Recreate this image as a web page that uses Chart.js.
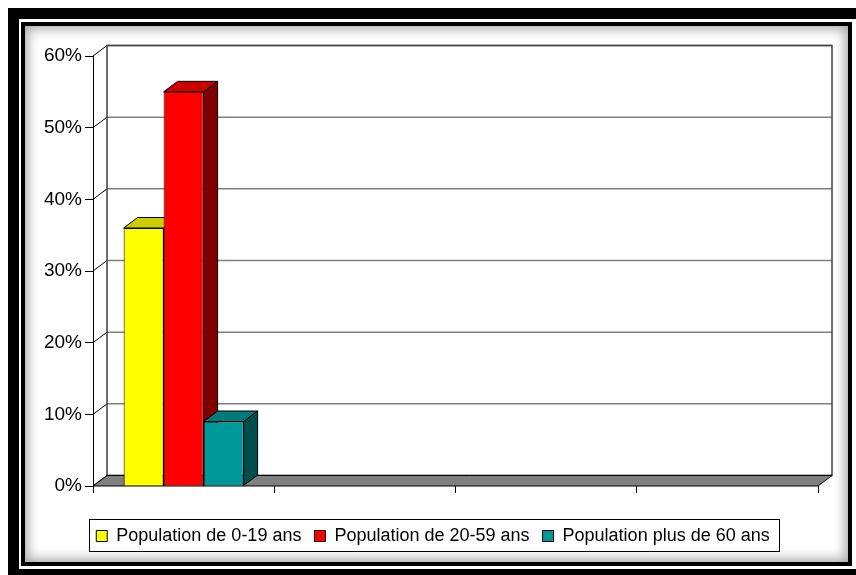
<!DOCTYPE html>
<html>
<head>
<meta charset="utf-8">
<script src="https://cdn.jsdelivr.net/npm/chart.js@4.4.1/dist/chart.umd.min.js"></script>
<style>
    html, body { margin: 0; padding: 0; background: #fff; }
    body { width: 856px; height: 575px; position: relative; overflow: hidden; }
    .outer-frame {
        position: absolute; left: 8px; top: 8px; width: 900px; height: 572px;
        box-sizing: border-box; border: 11px solid #000;
    }
    .inner-frame {
        position: absolute; left: 21px; top: 22px; width: 831px; height: 544px;
        box-sizing: border-box; border: 4px solid #000;
        box-shadow: inset 0 0 12px 3px rgba(0, 0, 0, 0.35);
    }
    #chart { position: absolute; left: 0; top: 0; }
</style>
</head>
<body>
<div class="outer-frame"></div>
<div class="inner-frame"></div>
<canvas id="chart" width="856" height="575"></canvas>
<script>
// data
const categories = ['', '', '', ''];
const seriesNames = ['Population de 0-19 ans', 'Population de 20-59 ans', 'Population plus de 60 ans'];
const young = [36, null, null, null];
const adults = [55, null, null, null];
const seniors = [9, null, null, null];
const yMax = 60;
const yStep = 10;

// 3D look
const DEPTH_X = 14;
const DEPTH_Y = -10.5;
const faceColors = [
    { front: '#ffff00', top: '#cccc00', side: '#808000' },
    { front: '#ff0000', top: '#cc0000', side: '#800000' },
    { front: '#009999', top: '#007a7a', side: '#004d4d' }
];
const FONT = '"Liberation Sans", Arial, sans-serif';
const LEGEND_LEFT = 48;

function poly(ctx, pts, fill, stroke) {
    ctx.beginPath();
    ctx.moveTo(pts[0][0], pts[0][1]);
    for (let i = 1; i < pts.length; i++) ctx.lineTo(pts[i][0], pts[i][1]);
    ctx.closePath();
    if (fill) { ctx.fillStyle = fill; ctx.fill(); }
    if (stroke) { ctx.strokeStyle = stroke; ctx.lineWidth = 1; ctx.stroke(); }
}

const depthPlugin = {
    id: 'depth3d',
    afterLayout(chart) {
        // legend is centred a bit right of the page centre
        chart.legend.left = LEGEND_LEFT;
    },
    beforeDatasetsDraw(chart) {
        const ctx = chart.ctx;
        const area = chart.chartArea;
        const yScale = chart.scales.y;
        const dx = DEPTH_X, dy = DEPTH_Y;
        ctx.save();

        // back wall gridlines
        yScale.ticks.forEach(t => {
            const py = yScale.getPixelForValue(t.value);
            ctx.beginPath();
            ctx.moveTo(area.left + dx, py + dy);
            ctx.lineTo(area.right + dx, py + dy);
            ctx.strokeStyle = '#808080';
            ctx.lineWidth = 1.5;
            ctx.stroke();
            // side wall diagonals
            ctx.beginPath();
            ctx.moveTo(area.left, py);
            ctx.lineTo(area.left + dx, py + dy);
            ctx.strokeStyle = '#000';
            ctx.lineWidth = 1;
            ctx.stroke();
        });

        // back wall outline
        ctx.strokeStyle = '#404040';
        ctx.lineWidth = 1.5;
        ctx.strokeRect(area.left + dx, area.top + dy, area.right - area.left, area.bottom - area.top);

        // floor
        poly(ctx, [
            [area.left, area.bottom], [area.right, area.bottom],
            [area.right + dx, area.bottom + dy], [area.left + dx, area.bottom + dy]
        ], '#808080', '#000');

        // top and side faces of the bars, left to right
        chart.data.datasets.forEach((ds, di) => {
            const meta = chart.getDatasetMeta(di);
            meta.data.forEach((bar, i) => {
                if (ds.data[i] == null) return;
                const p = bar.getProps(['x', 'y', 'base', 'width'], true);
                const l = p.x - p.width / 2, r = p.x + p.width / 2;
                poly(ctx, [[l, p.y], [r, p.y], [r + dx, p.y + dy], [l + dx, p.y + dy]], faceColors[di].top, '#000');
                poly(ctx, [[r, p.y], [r + dx, p.y + dy], [r + dx, p.base + dy], [r, p.base]], faceColors[di].side, '#000');
            });
        });
        ctx.restore();
    },
    afterDraw(chart) {
        // frame round the legend
        const boxes = chart.legend.legendHitBoxes;
        if (!boxes || !boxes.length) return;
        const first = boxes[0], last = boxes[boxes.length - 1];
        const ctx = chart.ctx;
        ctx.save();
        ctx.strokeStyle = '#000';
        ctx.lineWidth = 1;
        const left = Math.round(first.left - 7) + 0.5;
        const right = Math.round(last.left + last.width + 9) + 0.5;
        const top = Math.round(first.top - 8) + 0.5;
        const bottom = Math.round(first.top + 24) + 0.5;
        ctx.strokeRect(left, top, right - left, bottom - top);
        ctx.restore();
    }
};

const ctx = document.getElementById('chart').getContext('2d');
new Chart(ctx, {
    type: 'bar',
    data: {
        labels: categories,
        datasets: [
            { label: seriesNames[0], data: young, backgroundColor: faceColors[0].front, borderColor: '#000', borderWidth: 1 },
            { label: seriesNames[1], data: adults, backgroundColor: faceColors[1].front, borderColor: '#000', borderWidth: 1 },
            { label: seriesNames[2], data: seniors, backgroundColor: faceColors[2].front, borderColor: '#000', borderWidth: 1 }
        ]
    },
    options: {
        responsive: false,
        animation: false,
        datasets: {
            bar: { categoryPercentage: 0.662, barPercentage: 1 }
        },
        layout: {
            padding: { left: 0, right: 38, top: 56, bottom: 20 }
        },
        plugins: {
            legend: {
                position: 'bottom',
                labels: {
                    boxWidth: 11,
                    boxHeight: 11,
                    padding: 13,
                    color: '#000',
                    font: { family: FONT, size: 18 }
                }
            },
            tooltip: { enabled: false }
        },
        scales: {
            x: {
                grid: {
                    display: true,
                    drawOnChartArea: false,
                    drawTicks: true,
                    tickLength: 7,
                    color: '#000'
                },
                border: { display: false },
                ticks: { display: false },
                afterFit(scale) { scale.height = 28; }
            },
            y: {
                min: 0,
                max: yMax,
                grid: {
                    drawOnChartArea: false,
                    drawTicks: true,
                    tickLength: 8,
                    color: '#000'
                },
                border: { display: true, color: '#000', width: 1 },
                ticks: {
                    stepSize: yStep,
                    padding: 3,
                    color: '#000',
                    font: { family: FONT, size: 19 },
                    callback: v => v + '%'
                },
                afterFit(scale) { scale.width = 93; }
            }
        }
    },
    plugins: [depthPlugin]
});
</script>
</body>
</html>
